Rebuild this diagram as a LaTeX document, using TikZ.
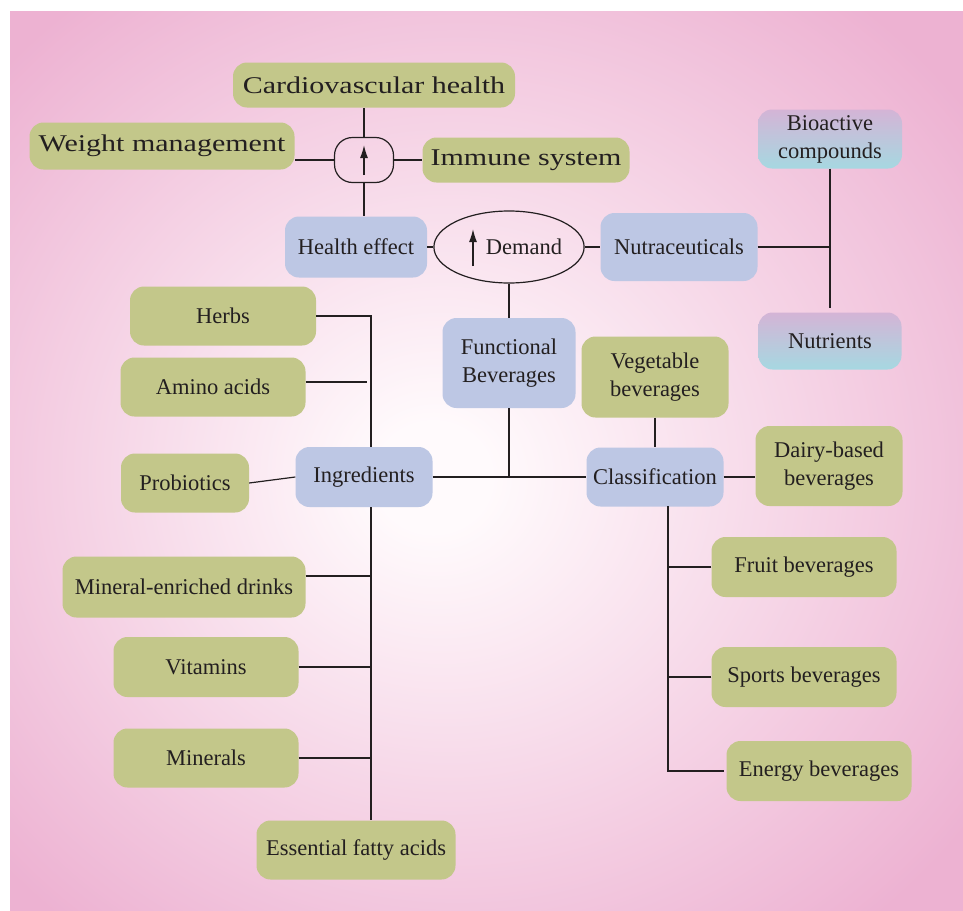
\documentclass[tikz,border=0pt]{standalone}
\usepackage{fontspec}
\setmainfont{Liberation Serif}
\newfontfamily\widefont[FakeStretch=1.25]{Liberation Serif}
\usetikzlibrary{shapes.geometric,arrows.meta}
\definecolor{boxgreen}{RGB}{195,199,138}
\definecolor{boxblue}{RGB}{189,199,228}
\definecolor{bgpink}{RGB}{237,178,210}
\definecolor{bgwhite}{RGB}{255,250,252}
\definecolor{tiptop}{RGB}{212,180,214}
\definecolor{tipmid}{RGB}{184,184,218}
\definecolor{tipbot}{RGB}{166,216,225}
\definecolor{ink}{RGB}{35,31,32}
\pgfdeclareradialshading{bgshade}{\pgfpoint{-3bp}{-1bp}}{color(0bp)=(bgwhite); color(3bp)=(bgwhite); color(33bp)=(bgpink); color(50bp)=(bgpink)}
\begin{document}
\begin{tikzpicture}[x=1pt,y=-1pt,
  roundbox/.style={rounded corners=14pt,inner sep=0pt,align=center,text=ink,font=\fontsize{22.5}{28}\selectfont},
  gbox/.style={roundbox,fill=boxgreen},
  bbox/.style={roundbox,fill=boxblue},
  tbox/.style={roundbox,top color=tiptop,middle color=tipmid,bottom color=tipbot},
  wbox/.style={gbox,font=\widefont\fontsize{24}{28}\selectfont},
  link/.style={draw=ink,line width=1.2pt},
  uparrow/.style={-{Latex[length=13pt,width=8pt]},line width=1.4pt,ink}]
\useasboundingbox (0,0) rectangle (963,910);
\shade [shading=bgshade] (10,11) rectangle (963,910);
% top
\node [wbox,minimum width=282pt,minimum height=45pt] (cardio) at (374,85) {Cardiovascular health};
\node [wbox,minimum width=265pt,minimum height=47pt] (weight) at (162,146) {Weight management};
\node [wbox,minimum width=207pt,minimum height=45pt] (immune) at (526,160) {Immune system};
\node [draw=ink,line width=1.2pt,rounded corners=18pt,minimum width=59pt,minimum height=45pt] (up) at (364,160) {};
\draw [uparrow] ([yshift=-15pt]up.center) -- ([yshift=15pt]up.center);
\node [bbox,minimum width=142pt,minimum height=61pt] (health) at (356,247) {Health effect};
\node [ellipse,draw=ink,line width=1.2pt,inner sep=0pt,minimum width=125pt,minimum height=72pt,text=ink,font=\fontsize{22.5}{28}\selectfont] (demand) at (509,247) {\hspace*{30pt}Demand};
\draw [uparrow] ([xshift=-36pt,yshift=-19pt]demand.center) -- ([xshift=-36pt,yshift=18pt]demand.center);
\node [bbox,minimum width=157pt,minimum height=68pt] (nutra) at (679,247) {Nutraceuticals};
\node [tbox,minimum width=144pt,minimum height=59pt] (bioactive) at (830,139) {Bioactive\\compounds};
\node [tbox,minimum width=143pt,minimum height=57pt] (nutrients) at (830,341) {Nutrients};
\node [bbox,minimum width=133pt,minimum height=90pt] (functional) at (509,363) {Functional\\Beverages};
% ingredients
\node [bbox,minimum width=137pt,minimum height=60pt] (ingredients) at (364,477) {Ingredients};
\node [gbox,minimum width=186pt,minimum height=59pt] (herbs) at (223,316) {Herbs};
\node [gbox,minimum width=185pt,minimum height=59pt] (amino) at (213,387) {Amino acids};
\node [gbox,minimum width=128pt,minimum height=59pt] (probiotics) at (185,483) {Probiotics};
\node [gbox,minimum width=243pt,minimum height=61pt] (mineral) at (184,587) {Mineral-enriched drinks};
\node [gbox,minimum width=185pt,minimum height=60pt] (vitamins) at (206,667) {Vitamins};
\node [gbox,minimum width=185pt,minimum height=59pt] (minerals) at (206,758) {Minerals};
\node [gbox,minimum width=199pt,minimum height=59pt] (essential) at (356,850) {Essential fatty acids};
% classification
\node [bbox,minimum width=137pt,minimum height=59pt] (classification) at (655,477) {Classification};
\node [gbox,minimum width=147pt,minimum height=81pt] (vegetable) at (655,377) {Vegetable\\beverages};
\node [gbox,minimum width=147pt,minimum height=80pt] (dairy) at (829,466) {Dairy-based\\beverages};
\node [gbox,minimum width=185pt,minimum height=60pt] (fruit) at (804,567) {Fruit beverages};
\node [gbox,minimum width=185pt,minimum height=60pt] (sports) at (804,677) {Sports beverages};
\node [gbox,minimum width=185pt,minimum height=60pt] (energy) at (819,771) {Energy beverages};
\coordinate (itop) at (371,318);
\coordinate (ctop) at (668,506);
% links
\draw [link] (up.north) -- (up.north |- cardio.south);
\draw [link] (up.west) -- (up.west -| weight.east);
\draw [link] (up.east) -- (up.east -| immune.west);
\draw [link] (up.south) -- (up.south |- health.north);
\draw [link] (health.east) -- (demand.west);
\draw [link] (demand.east) -- (nutra.west);
\draw [link] (nutra.east) -- (nutra.east -| bioactive.south);
\draw [link] (bioactive.south) -- ([yshift=4pt]nutrients.north);
\draw [link] (demand.south) -- (functional.north);
\draw [link] (functional.south) -- (functional.south |- ingredients.east);
\draw [link] (ingredients.east) -- (classification.west);
\draw [link] (herbs.east) -| (itop) -- (itop |- ingredients.north);
\draw [link] ([yshift=5pt]amino.east) -- ++(61,0);
\draw [link] (probiotics.east) -- (ingredients.west);
\draw [link] (itop |- ingredients.south) -- (itop |- essential.north);
\draw [link] ([yshift=11pt]mineral.east) -- ++(65,0);
\draw [link] (vitamins.east) -- (vitamins.east -| itop);
\draw [link] (minerals.east) -- (minerals.east -| itop);
\draw [link] (vegetable.south) -- (classification.north);
\draw [link] (classification.east) -- (classification.east -| dairy.west);
\draw [link] (ctop) -- (ctop |- energy.west) -- ([xshift=-2pt]energy.west);
\draw [link] (fruit.west) -- (fruit.west -| ctop);
\draw [link] (sports.west) -- (sports.west -| ctop);
\end{tikzpicture}
\end{document}
